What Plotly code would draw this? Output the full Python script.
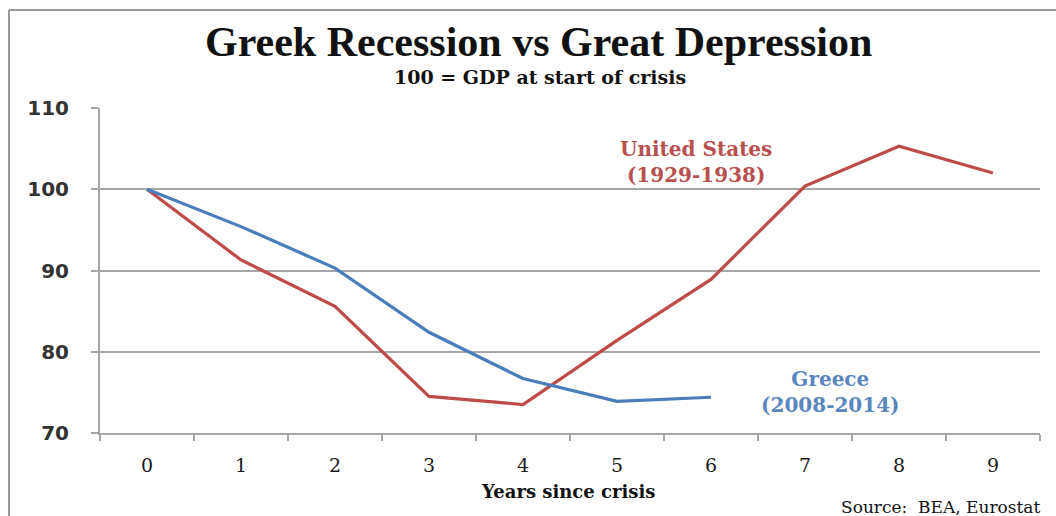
import plotly.graph_objects as go

years = ["0", "1", "2", "3", "4", "5", "6", "7", "8", "9"]
us_gdp = [100, 91.3, 85.6, 74.5, 73.5, 81.4, 88.9, 100.4, 105.3, 102.0]
greece_years = ["0", "1", "2", "3", "4", "5", "6"]
greece_gdp = [100, 95.4, 90.3, 82.4, 76.7, 73.9, 74.4]
y_ticks = [70, 80, 90, 100, 110]

RED = "#BE4B48"
BLUE = "#4A7EBB"
GRID = "#A6A6A6"
SERIF = "Liberation Serif"
WSERIF = "DejaVu Serif"

fig = go.Figure()
fig.add_trace(go.Scatter(x=years, y=us_gdp, mode="lines",
                         line=dict(color=RED, width=3.2), name="United States"))
fig.add_trace(go.Scatter(x=greece_years, y=greece_gdp, mode="lines",
                         line=dict(color=BLUE, width=3.2), name="Greece"))

fig.update_layout(
    width=1056, height=516,
    margin=dict(l=100, r=16, t=108, b=83),
    paper_bgcolor="white", plot_bgcolor="white",
    showlegend=False,
    font=dict(family=SERIF, color="#262626"),
    xaxis=dict(type="category", categoryorder="array", categoryarray=years,
               range=[-0.5, 9.5], showgrid=False, showline=True,
               linecolor=GRID, linewidth=2, ticks="outside", tickson="boundaries",
               ticklen=6, tickcolor=GRID, tickwidth=2, ticklabelstandoff=14,
               tickfont=dict(family=WSERIF, size=19, color="#1a1a1a"),
               zeroline=False),
    yaxis=dict(range=[70, 110], tickvals=y_ticks, showgrid=True,
               gridcolor=GRID, gridwidth=2, showline=True, linecolor=GRID,
               linewidth=2, ticks="outside", ticklen=7, tickcolor=GRID,
               tickwidth=2, zeroline=False, ticklabelstandoff=18,
               tickfont=dict(family="DejaVu Sans", size=20, color="#333333",
                             weight="bold")),
)

fig.add_annotation(text="<b>Greek Recession vs Great Depression</b>", xref="paper", yref="paper",
                   x=(538 - 100) / 940, y=(433 - 42) / 325, showarrow=False,
                   font=dict(family=SERIF, size=42, color="#111111"),
                   xanchor="center", yanchor="middle")
fig.add_annotation(text="<b>100 = GDP at start of crisis</b>", xref="paper", yref="paper",
                   x=(540 - 100) / 940, y=(433 - 77) / 325, showarrow=False,
                   font=dict(family=WSERIF, size=19, color="#111111"),
                   xanchor="center", yanchor="middle")
fig.add_annotation(text="<b>Years since crisis</b>", xref="paper", yref="paper",
                   x=(568 - 100) / 940, y=(433 - 491) / 325, showarrow=False,
                   font=dict(family=WSERIF, size=18, color="#111111"),
                   xanchor="center", yanchor="middle")
fig.add_annotation(text="Source:  BEA, Eurostat", xref="paper", yref="paper",
                   x=(1042 - 100) / 940, y=(433 - 507) / 325, showarrow=False,
                   font=dict(family=WSERIF, size=17, color="#111111"),
                   xanchor="right", yanchor="middle")
fig.add_annotation(text="<b>United States<br>(1929-1938)</b>", x=5.84, y=103.4,
                   showarrow=False, align="center",
                   font=dict(family=WSERIF, size=20, color="#B9504E"))
fig.add_annotation(text="<b>Greece<br>(2008-2014)</b>", x=7.27, y=75.0,
                   showarrow=False, align="center",
                   font=dict(family=WSERIF, size=20, color="#5A86BE"))

# outer frame (left and top edges visible)
fig.add_shape(type="line", xref="paper", yref="paper",
              x0=(9 - 100) / 940, x1=(1070 - 100) / 940,
              y0=(433 - 10) / 325, y1=(433 - 10) / 325,
              line=dict(color="#9A9A9A", width=2))
fig.add_shape(type="line", xref="paper", yref="paper",
              x0=(9 - 100) / 940, x1=(9 - 100) / 940,
              y0=(433 - 10) / 325, y1=(433 - 530) / 325,
              line=dict(color="#9A9A9A", width=2))

fig.write_html("out.html")
